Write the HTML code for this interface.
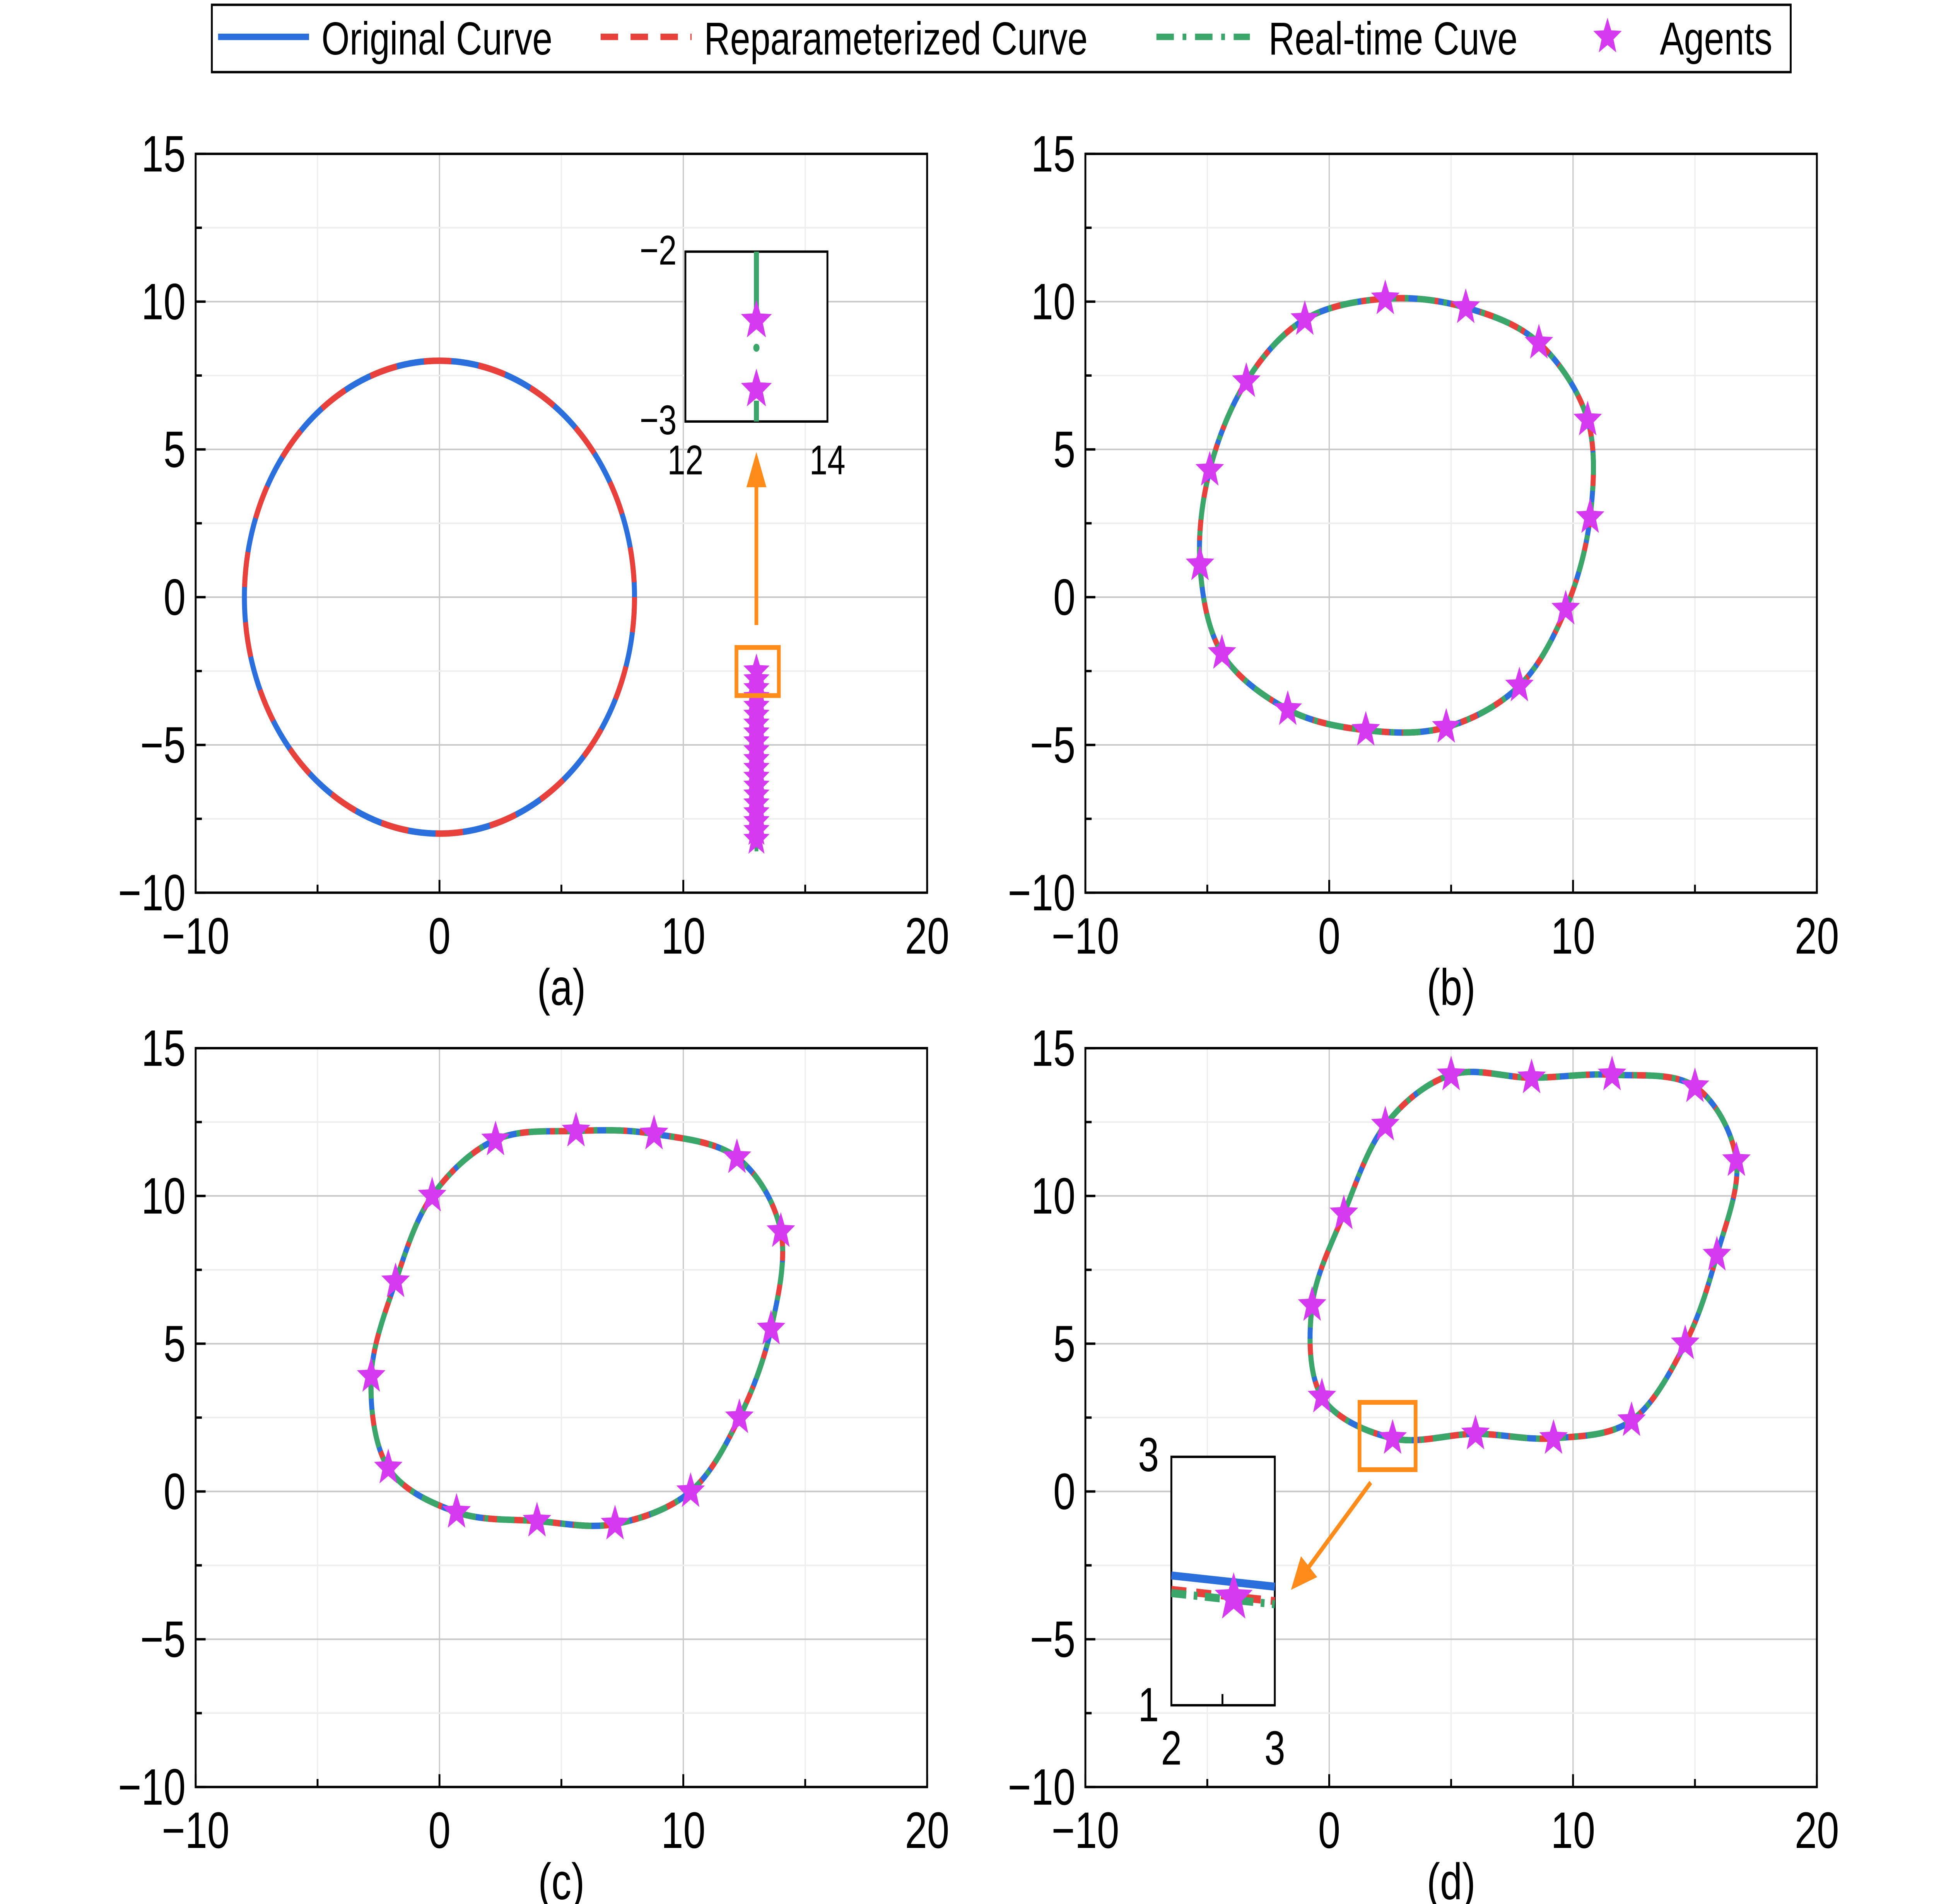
<!DOCTYPE html>
<html><head><meta charset="utf-8"><style>
html,body{margin:0;padding:0;background:#fff;width:100%;height:100%;overflow:hidden}
svg{display:block;width:100vw;height:100vh;font-family:"Liberation Sans",Arial,sans-serif}
</style></head><body>
<svg id="chart" viewBox="0 0 1552 1188" preserveAspectRatio="none" xmlns="http://www.w3.org/2000/svg">
<g>
<rect x="170" y="3" width="1267" height="42" fill="#fff" stroke="#000" stroke-width="1.5"/>
<line x1="175" y1="23" x2="248" y2="23" stroke="#2a6fdb" stroke-width="4"/>
<text x="258" y="34" font-size="29">Original Curve</text>
<line x1="482" y1="23" x2="555" y2="23" stroke="#e8403a" stroke-width="4" stroke-dasharray="14 10"/>
<text x="565" y="34" font-size="29">Reparameterized Curve</text>
<line x1="928" y1="23" x2="1003" y2="23" stroke="#3aa66a" stroke-width="4" stroke-dasharray="14 7 3 7"/>
<text x="1018" y="34" font-size="29">Real-time Cuve</text>
<path id="legstar" d="" fill="#d63af0"/>
<text x="1332" y="34" font-size="29">Agents</text>
</g>
<g id="panels"></g>
</svg>
<script>
const xTicks=[-10,0,10,20];
const yTicks=[-10,-5,0,5,10,15];
const circleR=8;
const agentsAy=[-2.5,-2.8,-3.1,-3.4,-3.7,-4.0,-4.3,-4.6,-4.9,-5.2,-5.5,-5.8,-6.1,-6.4,-6.7,-7.0,-7.3,-7.6,-7.9,-8.2];
const agentsAx=13;
const agentsB=[[-5.3,1.1],[-4.4,-1.9],[-1.7,-3.8],[1.5,-4.5],[4.8,-4.4],[7.8,-3],[9.7,-0.4],[10.7,2.7],[10.6,6],[8.6,8.6],[5.6,9.8],[2.3,10.1],[-1,9.4],[-3.4,7.3],[-4.9,4.3]];
const agentsC=[[-2.8,3.9],[-2.1,0.8],[0.7,-0.7],[4,-1],[7.2,-1.1],[10.3,0],[12.3,2.5],[13.6,5.5],[14,8.8],[12.2,11.3],[8.8,12.1],[5.6,12.2],[2.3,11.9],[-0.3,10],[-1.8,7.1]];
const agentsD=[[-0.7,6.3],[-0.3,3.2],[2.6,1.8],[6,1.95],[9.2,1.8],[12.4,2.4],[14.6,5],[15.9,8],[16.7,11.2],[15,13.7],[11.6,14.1],[8.3,14],[5,14.1],[2.3,12.4],[0.6,9.4]];
const NS="http://www.w3.org/2000/svg";
const root=document.getElementById('panels');
function el(t,a,p){const e=document.createElementNS(NS,t);for(const k in a)e.setAttribute(k,a[k]);(p||root).appendChild(e);return e;}
function starPath(cx,cy,r){let d='';for(let i=0;i<10;i++){const rr=i%2?r*0.42:r;const a=-Math.PI/2+i*Math.PI/5;d+=(i?'L':'M')+(cx+rr*Math.cos(a)).toFixed(2)+' '+(cy+rr*Math.sin(a)).toFixed(2);}return d+'Z';}
document.getElementById('legstar').setAttribute('d',starPath(1290,23,12));
function crPath(pts){const n=pts.length;let d='M'+pts[0][0]+' '+pts[0][1];for(let i=0;i<n;i++){const p0=pts[(i-1+n)%n],p1=pts[i],p2=pts[(i+1)%n],p3=pts[(i+2)%n];d+='C'+(p1[0]+(p2[0]-p0[0])/6)+' '+(p1[1]+(p2[1]-p0[1])/6)+' '+(p2[0]-(p3[0]-p1[0])/6)+' '+(p2[1]-(p3[1]-p1[1])/6)+' '+p2[0]+' '+p2[1];}return d+'Z';}
function panel(name,x0,y0,w,h,cap){
  const g=el('g',{});
  const sx=v=>x0+(v+10)/30*w, sy=v=>y0+h-(v+10)/25*h;
  for(let v=-5;v<20;v+=5){el('line',{x1:sx(v),y1:y0,x2:sx(v),y2:y0+h,stroke:v%10===0?'#c8c8c8':'#eeeeee','stroke-width':1},g);}
  for(let v=-7.5;v<15;v+=2.5){el('line',{x1:x0,y1:sy(v),x2:x0+w,y2:sy(v),stroke:v%5===0?'#c8c8c8':'#eeeeee','stroke-width':1},g);}
  el('rect',{x:x0,y:y0,width:w,height:h,fill:'none',stroke:'#000','stroke-width':1.5},g);
  for(let v=-10;v<=20;v+=5){const L=v%10===0?8:5;el('line',{x1:sx(v),y1:y0+h,x2:sx(v),y2:y0+h-L,stroke:'#000','stroke-width':1.5},g);}
  for(let v=-10;v<=15;v+=2.5){const L=v%5===0?8:5;el('line',{x1:x0,y1:sy(v),x2:x0+L,y2:sy(v),stroke:'#000','stroke-width':1.5},g);}
  xTicks.forEach(v=>{const t=el('text',{x:sx(v),y:y0+h+38,'font-size':32,'text-anchor':'middle'},g);t.textContent=String(v).replace('-','\u2212');});
  yTicks.forEach(v=>{const t=el('text',{x:x0-8,y:sy(v)+11,'font-size':32,'text-anchor':'end'},g);t.textContent=String(v).replace('-','\u2212');});
  const c=el('text',{x:x0+w/2,y:y0+h+70,'font-size':32,'text-anchor':'middle'},g);c.textContent=cap;
  
  return {g,sx,sy};
}
function curves(P,agents){
  const pts=agents.map(p=>[P.sx(p[0]),P.sy(p[1])]);const d=crPath(pts);
  const b=el('path',{d,fill:'none',stroke:'#2a6fdb','stroke-width':4},P.g);
  const r=el('path',{d,fill:'none',stroke:'#e8403a','stroke-width':4,'stroke-dasharray':'14 10'},P.g);
  const gr=el('path',{d,fill:'none',stroke:'#3aa66a','stroke-width':4,'stroke-dasharray':'14 7 3 7'},P.g);
  agents.forEach(p=>{const s=el('path',{d:starPath(P.sx(p[0]),P.sy(p[1]),12),fill:'#d63af0'},P.g);});
}
const A=panel('panel-a',157,96,587,461,'(a)');
const cx=A.sx(0),cy=A.sy(0),rx=A.sx(circleR)-A.sx(0),ry=A.sy(0)-A.sy(circleR);
const c1=el('ellipse',{cx,cy,rx,ry,fill:'none',stroke:'#2a6fdb','stroke-width':4},A.g);
const c2=el('ellipse',{cx,cy,rx,ry,fill:'none',stroke:'#e8403a','stroke-width':4,'stroke-dasharray':'22 22'},A.g);
el('line',{x1:A.sx(agentsAx),y1:A.sy(-2.5),x2:A.sx(agentsAx),y2:A.sy(-8.6),stroke:'#3aa66a','stroke-width':3,'stroke-dasharray':'8 4 2 4'},A.g);
agentsAy.forEach(v=>{const s=el('path',{d:starPath(A.sx(agentsAx),A.sy(v),11),fill:'#d63af0'},A.g);});
el('rect',{x:591,y:404,width:34,height:30,fill:'none',stroke:'#ff8c1a','stroke-width':3},A.g);
el('line',{x1:607,y1:390,x2:607,y2:300,stroke:'#ff8c1a','stroke-width':3},A.g);
el('path',{d:'M599 304 L607 282 L615 304Z',fill:'#ff8c1a'},A.g);
const ia=el('g',{},A.g);
el('rect',{x:550,y:157,width:114,height:106,fill:'#fff',stroke:'#000','stroke-width':1.5},ia);
el('line',{x1:607,y1:157,x2:607,y2:198,stroke:'#3aa66a','stroke-width':4},ia);
el('circle',{cx:607,cy:217,r:2.5,fill:'#3aa66a'},ia);
el('line',{x1:607,y1:250,x2:607,y2:263,stroke:'#3aa66a','stroke-width':4},ia);
el('path',{d:starPath(607,200,13),fill:'#d63af0'},ia);
el('path',{d:starPath(607,243,13),fill:'#d63af0'},ia);
[['\u22122',543,165,'end'],['\u22123',543,271,'end'],['12',550,296,'middle'],['14',664,296,'middle']].forEach(a=>{const t=el('text',{x:a[1],y:a[2],'font-size':26,'text-anchor':a[3]},ia);t.textContent=a[0];});
const B=panel('panel-b',871,96,587,461,'(b)');curves(B,agentsB);
const C=panel('panel-c',157,654,587,461,'(c)');curves(C,agentsC);
const D=panel('panel-d',871,654,587,461,'(d)');curves(D,agentsD);
el('rect',{x:1091,y:875,width:45,height:42,fill:'none',stroke:'#ff8c1a','stroke-width':3},D.g);
el('line',{x1:1100,y1:925,x2:1050,y2:978,stroke:'#ff8c1a','stroke-width':3},D.g);
el('path',{d:'M1044 971 L1036 992 L1057 984Z',fill:'#ff8c1a'},D.g);
const idg=el('g',{},D.g);
el('rect',{x:940,y:909,width:83,height:155,fill:'#fff',stroke:'#000','stroke-width':1.5},idg);
el('line',{x1:940,y1:983,x2:1023,y2:990,stroke:'#2a6fdb','stroke-width':5},idg);
el('line',{x1:940,y1:992,x2:1023,y2:999,stroke:'#e8403a','stroke-width':5,'stroke-dasharray':'12 8'},idg);
el('line',{x1:940,y1:994,x2:1023,y2:1001,stroke:'#3aa66a','stroke-width':5,'stroke-dasharray':'12 6 3 6'},idg);
el('path',{d:starPath(990,997,16),fill:'#d63af0'},idg);
el('line',{x1:981,y1:1064,x2:981,y2:1057,stroke:'#000','stroke-width':1.5},idg);
[['3',930,918,'end'],['1',930,1074,'end'],['2',940,1101,'middle'],['3',1023,1101,'middle']].forEach(a=>{const t=el('text',{x:a[1],y:a[2],'font-size':30,'text-anchor':a[3]},idg);t.textContent=a[0];});
</script>
</body></html>
